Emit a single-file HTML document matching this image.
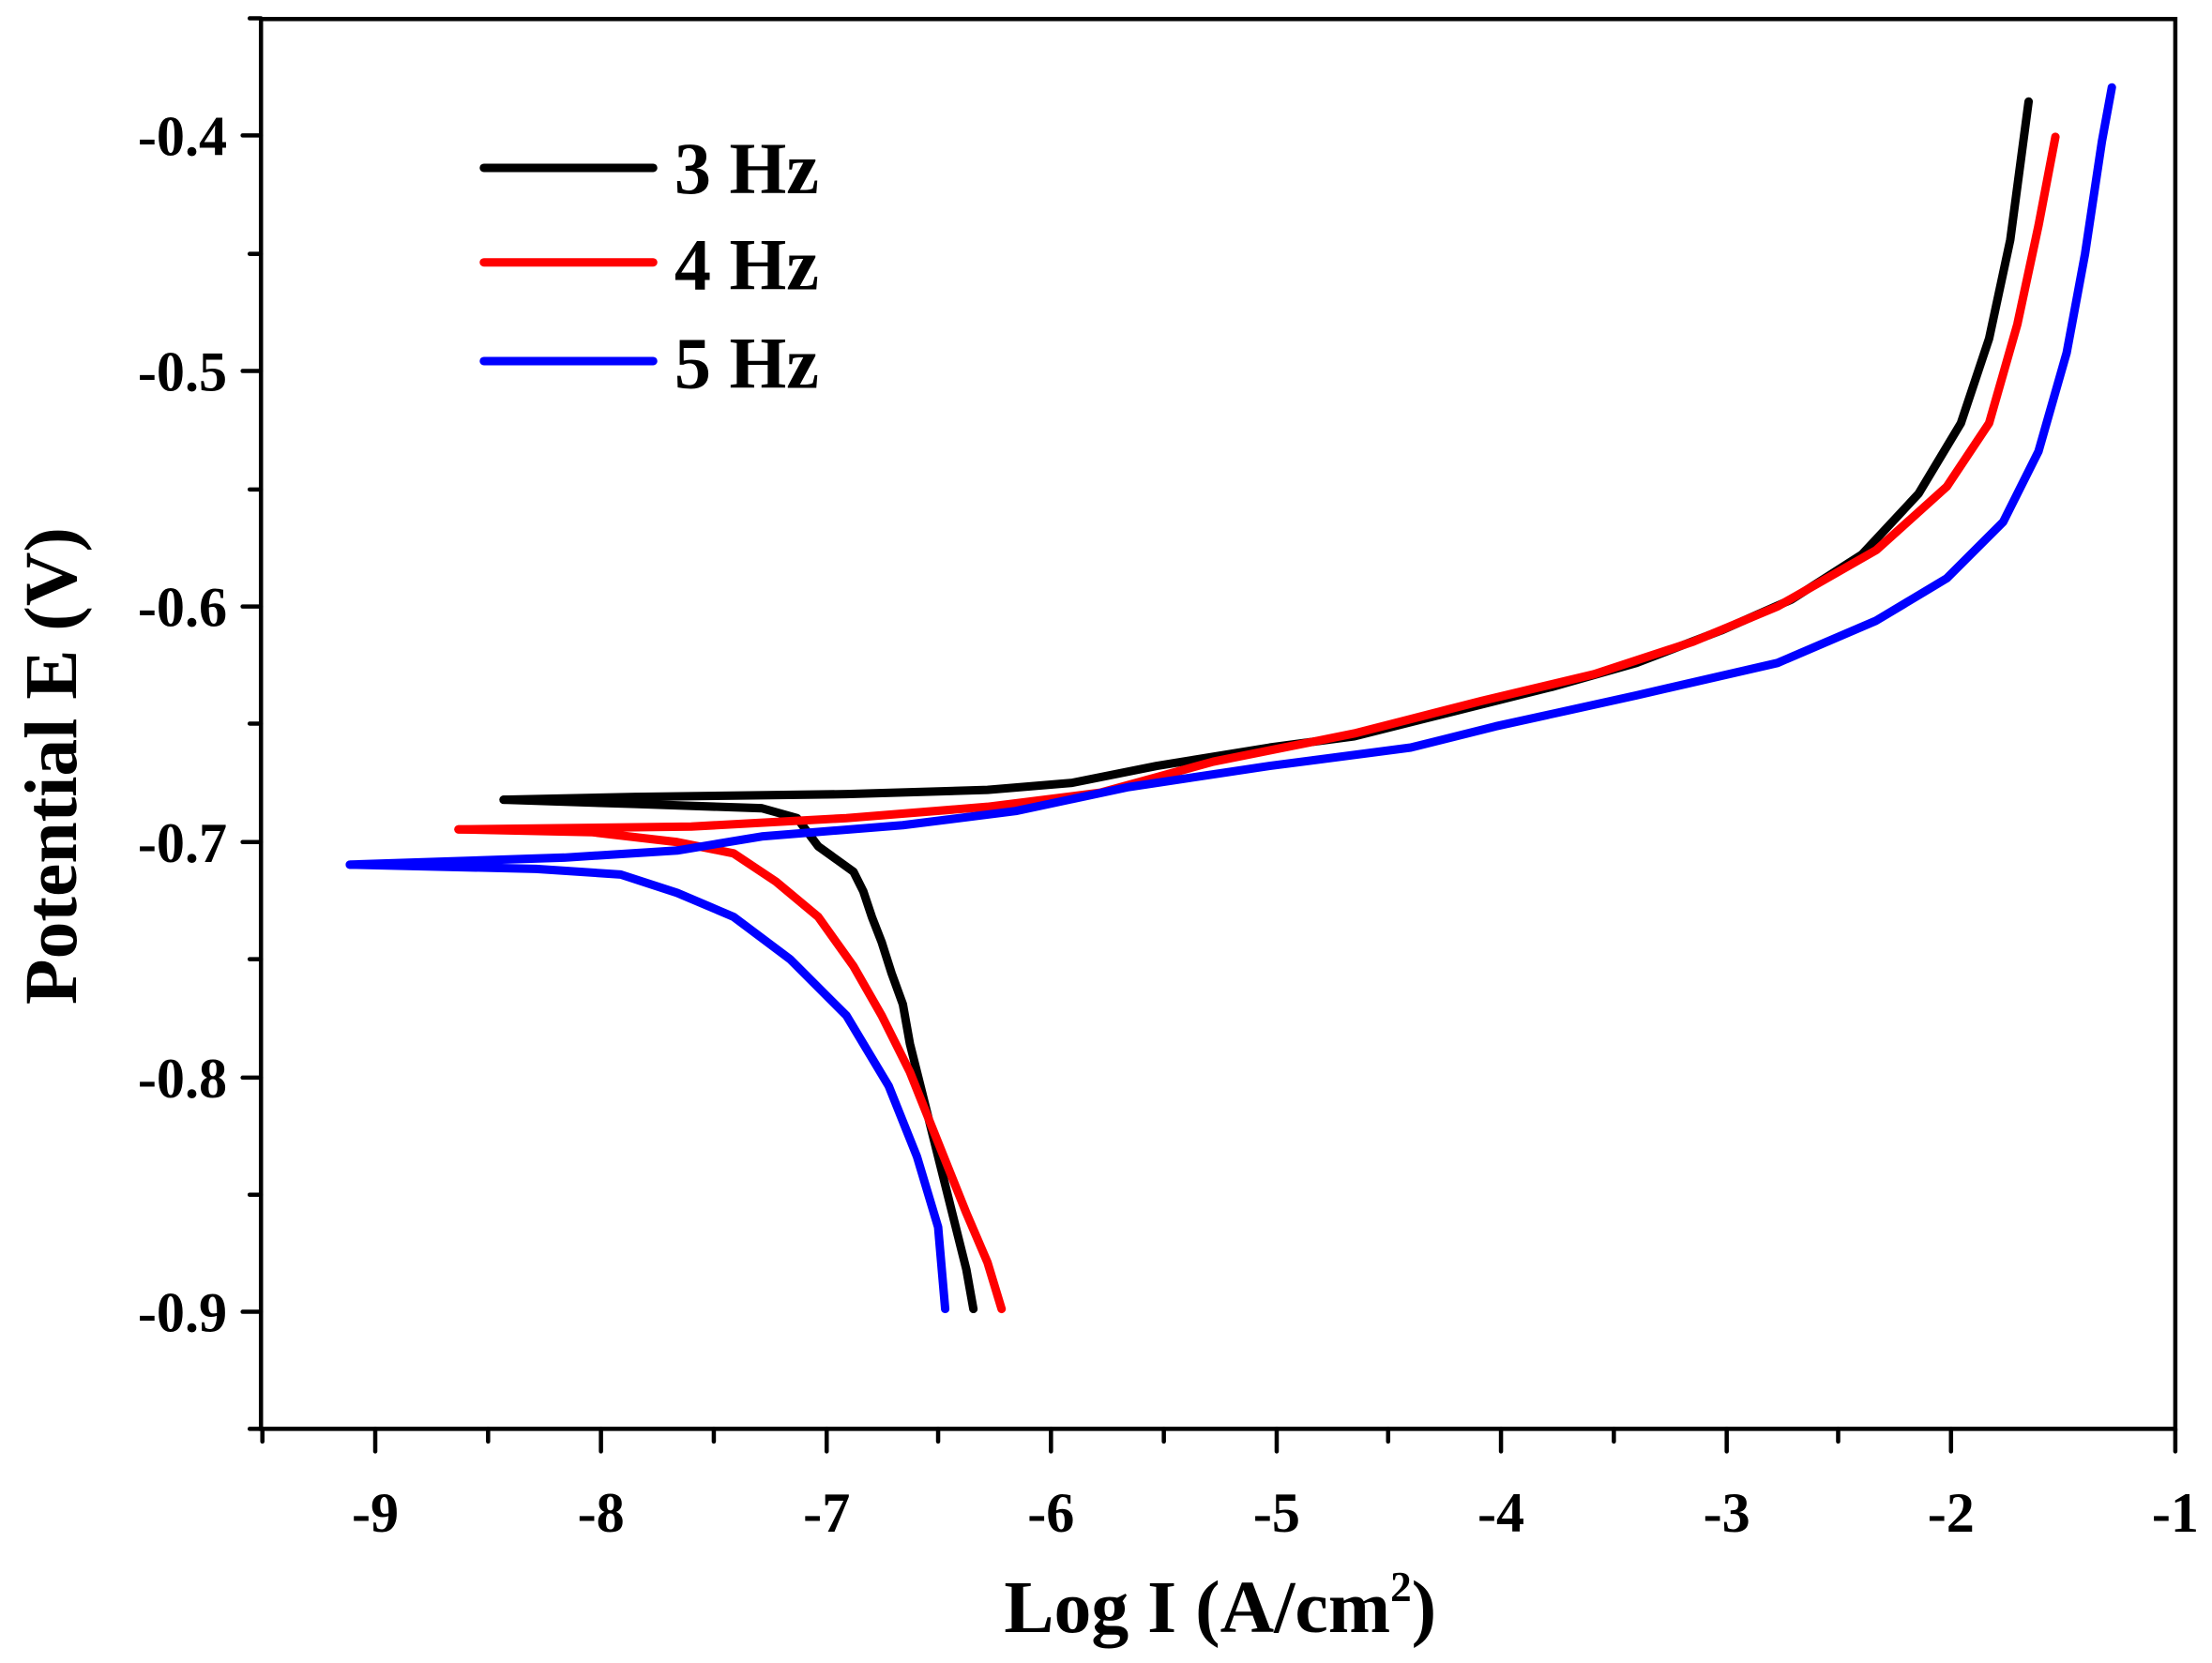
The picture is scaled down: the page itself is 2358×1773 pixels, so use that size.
<!DOCTYPE html>
<html><head><style>html,body{margin:0;padding:0;background:#fff}svg{display:block}</style></head>
<body>
<svg width="2358" height="1773" viewBox="0 0 1568 1179" preserveAspectRatio="none" xmlns="http://www.w3.org/2000/svg" font-family="Liberation Serif, serif" font-weight="bold">
<rect x="185" y="13.5" width="1357" height="999.5" fill="none" stroke="#000" stroke-width="3"/>
<g stroke="#000" stroke-width="3" stroke-linecap="round">
<line x1="266" y1="1013" x2="266" y2="1029"/><line x1="426" y1="1013" x2="426" y2="1029"/><line x1="586" y1="1013" x2="586" y2="1029"/><line x1="745" y1="1013" x2="745" y2="1029"/><line x1="905" y1="1013" x2="905" y2="1029"/><line x1="1064" y1="1013" x2="1064" y2="1029"/><line x1="1224" y1="1013" x2="1224" y2="1029"/><line x1="1383" y1="1013" x2="1383" y2="1029"/><line x1="1542" y1="1013" x2="1542" y2="1029"/>
<line x1="186" y1="1013" x2="186" y2="1022"/><line x1="346" y1="1013" x2="346" y2="1022"/><line x1="506" y1="1013" x2="506" y2="1022"/><line x1="665" y1="1013" x2="665" y2="1022"/><line x1="825" y1="1013" x2="825" y2="1022"/><line x1="984" y1="1013" x2="984" y2="1022"/><line x1="1144" y1="1013" x2="1144" y2="1022"/><line x1="1303" y1="1013" x2="1303" y2="1022"/>
<line x1="172" y1="96" x2="185" y2="96"/><line x1="172" y1="263" x2="185" y2="263"/><line x1="172" y1="430" x2="185" y2="430"/><line x1="172" y1="597" x2="185" y2="597"/><line x1="172" y1="764" x2="185" y2="764"/><line x1="172" y1="930" x2="185" y2="930"/>
<line x1="177" y1="13" x2="185" y2="13"/><line x1="177" y1="180" x2="185" y2="180"/><line x1="177" y1="347" x2="185" y2="347"/><line x1="177" y1="513" x2="185" y2="513"/><line x1="177" y1="680" x2="185" y2="680"/><line x1="177" y1="847" x2="185" y2="847"/><line x1="177" y1="1013" x2="185" y2="1013"/>
</g>
<g font-size="40" text-anchor="end">
<text x="161" y="110">-0.4</text><text x="161" y="277">-0.5</text><text x="161" y="444">-0.6</text><text x="161" y="611">-0.7</text><text x="161" y="778">-0.8</text><text x="161" y="944">-0.9</text>
</g>
<g font-size="40" text-anchor="middle">
<text x="266" y="1086">-9</text><text x="426" y="1086">-8</text><text x="586" y="1086">-7</text><text x="745" y="1086">-6</text><text x="905" y="1086">-5</text><text x="1064" y="1086">-4</text><text x="1224" y="1086">-3</text><text x="1383" y="1086">-2</text><text x="1542" y="1086">-1</text>
</g>
<text x="865" y="1157" font-size="53" text-anchor="middle">Log I (A/cm<tspan dy="-22" font-size="30">2</tspan><tspan dy="22">)</tspan></text>
<text transform="translate(54,543) rotate(-90)" font-size="53" text-anchor="middle">Potential E (V)</text>
<g fill="none" stroke-width="6" stroke-linecap="round" stroke-linejoin="round">
<polyline stroke="#000" points="357,567 450,565 600,563 700,560 760,555 820,543 900,530 960,522 1040,502 1100,487 1160,470 1220,447 1270,425 1320,393 1360,350 1390,300 1410,240 1425,170 1438,72"/>
<polyline stroke="#000" points="357,567 450,570 540,573 565,580 580,600 605,618 612,632 618,650 625,668 632,690 640,712 645,740 655,780 665,820 675,860 685,900 690,928"/>
<polyline stroke="#f00" points="325,588 490,586 600,580 700,572 780,562 860,540 960,520 1050,497 1130,478 1200,455 1260,430 1330,390 1380,345 1410,300 1430,230 1445,160 1457,97"/>
<polyline stroke="#f00" points="325,588 420,590 480,597 520,605 550,625 580,650 605,685 625,720 645,760 665,810 685,860 700,895 710,928"/>
<polyline stroke="#00f" points="248,613 400,608 480,603 540,593 640,585 720,575 800,558 900,543 1000,530 1060,515 1160,493 1260,470 1330,440 1380,410 1420,370 1445,320 1465,250 1478,180 1490,100 1497,62"/>
<polyline stroke="#00f" points="248,613 380,616 440,620 480,633 520,650 560,680 600,720 630,770 650,820 665,870 670,928"/>
<line x1="343" y1="119" x2="463" y2="119" stroke="#000"/>
<line x1="343" y1="186" x2="463" y2="186" stroke="#f00"/>
<line x1="343" y1="256" x2="463" y2="256" stroke="#00f"/>
</g>
<g font-size="52">
<text x="478" y="137">3 Hz</text><text x="478" y="205">4 Hz</text><text x="478" y="275">5 Hz</text>
</g>
</svg>
</body></html>
